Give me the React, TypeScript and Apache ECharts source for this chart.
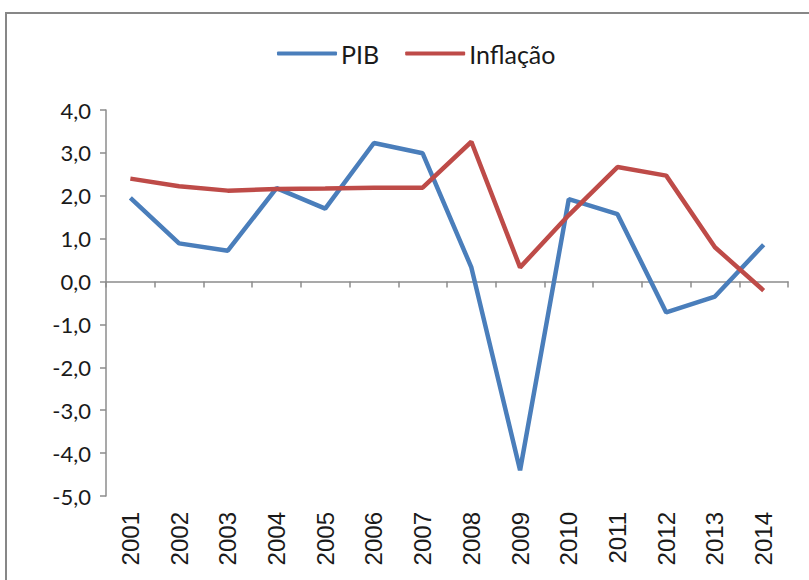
import React, { useEffect, useRef } from "react";
import * as echarts from "echarts";

const years = ["2001","2002","2003","2004","2005","2006","2007","2008","2009","2010","2011","2012","2013","2014"];
const pib = [1.95, 0.89, 0.72, 2.18, 1.70, 3.23, 2.99, 0.33, -4.4, 1.92, 1.57, -0.72, -0.35, 0.86];
const inflacao = [2.40, 2.22, 2.12, 2.16, 2.17, 2.19, 2.19, 3.26, 0.33, 1.55, 2.67, 2.47, 0.80, -0.21];

const FONT = "Lato, 'Open Sans', sans-serif";
const YEARFONT = "'Liberation Sans', Arial, sans-serif";

export default function App() {
  const ref = useRef<HTMLDivElement>(null);
  useEffect(() => {
    const chart = echarts.init(ref.current!, undefined, { renderer: "svg" });
    chart.setOption({
      animation: false,
      backgroundColor: "#fff",
      graphic: [
        { type: "rect", shape: { x: 6, y: 13, width: 830, height: 620 }, style: { fill: "none", stroke: "#878787", lineWidth: 2 }, silent: true },
      ],
      legend: {
        left: 272,
        top: 36,
        icon: "roundRect",
        itemWidth: 60,
        itemHeight: 4,
        itemGap: 26,
        textStyle: { fontFamily: FONT, fontSize: 25, color: "#1a1a1a", padding: [0, 0, 0, -1] },
        data: ["PIB", "Inflação"],
      },
      grid: { left: 106, top: 110, right: 21, bottom: 84, containLabel: false },
      xAxis: [
        {
          type: "category",
          data: years,
          position: "bottom",
          axisLine: { show: false, onZero: false },
          axisTick: { show: false },
          axisLabel: { rotate: 90, margin: 16, fontFamily: YEARFONT, fontSize: 24, color: "#1a1a1a", interval: 0 },
        },
        {
          type: "category",
          data: years,
          position: "top",
          axisLine: { show: true, onZero: true, onZeroAxisIndex: 0, lineStyle: { color: "#8c8c8c", width: 1.5 } },
          axisTick: { show: true, inside: true, length: 6, alignWithLabel: false, interval: 0, lineStyle: { color: "#8c8c8c", width: 1.5 } },
          axisLabel: { show: false },
        },
      ],
      yAxis: {
        type: "value",
        min: -5,
        max: 4,
        interval: 1,
        splitLine: { show: false },
        axisLine: { show: true, lineStyle: { color: "#8c8c8c", width: 1.5 } },
        axisTick: { show: true, length: 6, lineStyle: { color: "#8c8c8c", width: 1.5 } },
        axisLabel: {
          margin: 15,
          fontFamily: FONT,
          fontSize: 22,
          color: "#1a1a1a",
          formatter: (v: number) => v.toFixed(1).replace(".", ","),
        },
      },
      series: [
        {
          name: "PIB",
          type: "line",
          data: pib,
          xAxisIndex: 0,
          symbol: "none",
          lineStyle: { color: "#4A7EBB", width: 4.5 },
          itemStyle: { color: "#4A7EBB" },
        },
        {
          name: "Inflação",
          type: "line",
          data: inflacao,
          xAxisIndex: 0,
          symbol: "none",
          lineStyle: { color: "#BE4B48", width: 4.5 },
          itemStyle: { color: "#BE4B48" },
        },
      ],
    });
    return () => chart.dispose();
  }, []);
  return <div ref={ref} style={{ position: "fixed", left: 0, top: 0, width: 809, height: 580 }} />;
}
